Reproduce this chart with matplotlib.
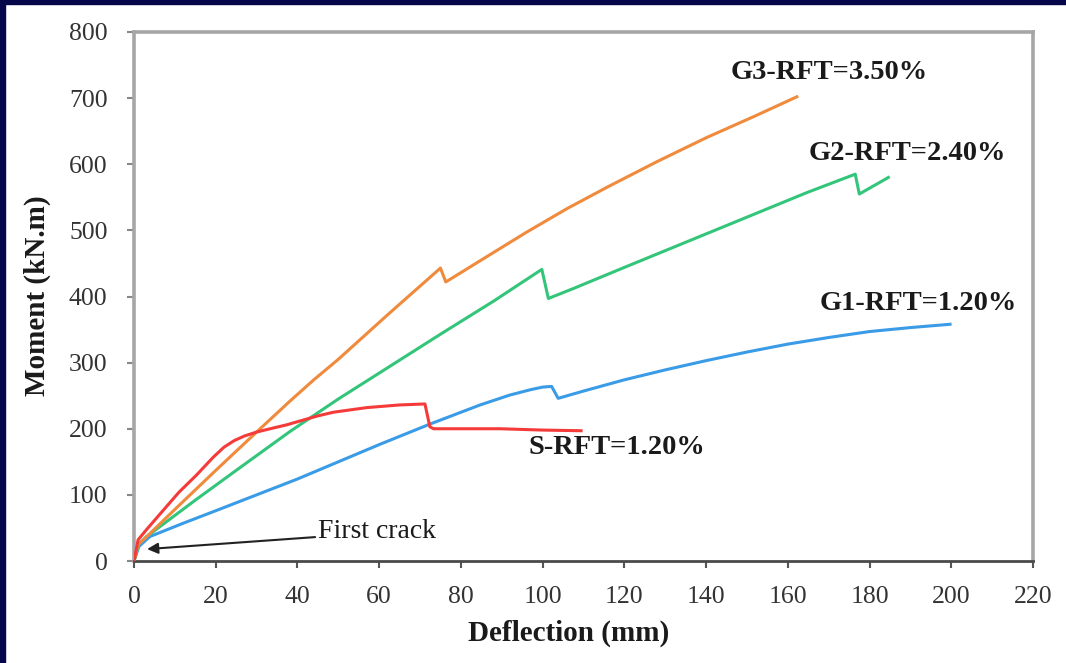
import matplotlib
matplotlib.use("Agg")
import matplotlib.pyplot as plt
from matplotlib.patches import Rectangle

# Moment-deflection curves for the four beams
s_x = [0, 1.0, 3.0, 7.2, 11, 15.3, 19.4, 22, 24.5, 27, 30, 34, 37.4, 44.7, 48.8, 57, 65, 71.2, 72.4, 73.3, 89.6, 100, 109.4]
s_y = [0, 32, 47, 77, 104, 130, 157, 172, 182, 189, 195, 201, 206, 219, 225, 232, 236, 237.5, 203, 200, 200, 198, 197]

g3_x = [0, 1.0, 2.3, 10, 20, 30, 38.2, 44, 50, 62, 75.0, 76.3, 86, 96, 106, 116, 128, 140, 152, 162.2]
g3_y = [0, 25, 32, 78, 137, 195, 242, 274, 305, 372, 443, 422, 459, 497, 533, 566, 604, 640, 673, 702]

g2_x = [0, 1.2, 3.1, 15, 25, 38.2, 50, 62, 75, 88, 99.8, 101.4, 107.5, 120, 135, 150, 164.6, 176.5, 177.5, 184.6]
g2_y = [0, 26, 37, 92, 137, 196, 245, 292, 343, 393, 441, 397, 412, 444, 482, 520, 557, 585, 555, 580]

g1_x = [0, 1.2, 3.9, 12, 20, 30, 40, 50, 60, 72.4, 84.7, 92, 97, 100, 102.2, 103.8, 110, 120, 130, 140, 150, 160, 170, 180, 190, 199.7]
g1_y = [0, 22, 37, 57, 76, 100, 124, 150, 176, 207, 236, 251, 259, 263, 264, 246, 257, 274, 289, 303, 316, 328, 338, 347, 353, 358]

x_ticks = list(range(0, 221, 20))
y_ticks = list(range(0, 801, 100))

series_labels = ["S-RFT=1.20%", "G3-RFT=3.50%", "G2-RFT=2.40%", "G1-RFT=1.20%"]

W, H = 1066, 663
fig = plt.figure(figsize=(W / 100, H / 100), dpi=100)
fig.patch.set_facecolor("white")

# dark frame along the left and top edges
navy = "#06064a"
fig.add_artist(Rectangle((0, 0), 5 / W, 1, transform=fig.transFigure, color=navy, zorder=10))
fig.add_artist(Rectangle((0, 1 - 4 / H), 1, 4 / H, transform=fig.transFigure, color=navy, zorder=10))

ax = fig.add_axes([134 / W, 1 - 561 / H, (1033 - 134) / W, (561 - 32) / H])

serif = "Liberation Serif"
lw = 2.2
ax.plot(g1_x, g1_y, color="#3a9be6", lw=lw, zorder=3)
ax.plot(g2_x, g2_y, color="#33c57a", lw=lw, zorder=3)
ax.plot(g3_x, g3_y, color="#f08a3c", lw=lw, zorder=4)
ax.plot(s_x, s_y, color="#f53a3a", lw=lw, zorder=5)

ax.set_xlim(0, 220)
ax.set_ylim(0, 800)
ax.set_xticks(x_ticks)
ax.set_yticks(y_ticks)
ax.set_xticklabels([str(v) for v in x_ticks], family=serif, fontsize=18.5, color="#333333")
ax.set_yticklabels([str(v) for v in y_ticks], family=serif, fontsize=18.5, color="#333333")
ax.tick_params(axis="x", direction="out", length=5, width=1.5, color="#555555", pad=13)
ax.tick_params(axis="y", direction="out", length=5, width=1.5, color="#888888", pad=14)

for side in ("left", "top", "right"):
    ax.spines[side].set_color("#a6a6a6")
    ax.spines[side].set_linewidth(2.6)
ax.spines["bottom"].set_color("#4a4a4a")
ax.spines["bottom"].set_linewidth(2.0)

label_kw = dict(family=serif, fontsize=20.5, fontweight="bold", color="#1a1a1a", ha="left", va="center")
ax.text(145.9, 738, series_labels[1], **label_kw)
ax.text(165.2, 617, series_labels[2], **label_kw)
ax.text(167.9, 390, series_labels[3], **label_kw)
ax.text(96.5, 172, series_labels[0], **label_kw)

ax.annotate("First crack", xy=(3.2, 18), xytext=(45, 44),
            family=serif, fontsize=20, color="#1a1a1a", ha="left", va="center",
            arrowprops=dict(arrowstyle="-|>", color="#222222", lw=1.5, mutation_scale=16,
                            shrinkA=0, shrinkB=0, relpos=(0, 0.3)))

fig.text(569 / W, 1 - 633 / H, "Deflection (mm)", family=serif, fontsize=21,
         fontweight="bold", color="#1a1a1a", ha="center", va="center")
fig.text(37 / W, 1 - 296 / H, "Moment (kN.m)", family=serif, fontsize=21,
         fontweight="bold", color="#1a1a1a", ha="center", va="center", rotation=90)

fig.savefig("out.png", dpi=100, facecolor="white")
